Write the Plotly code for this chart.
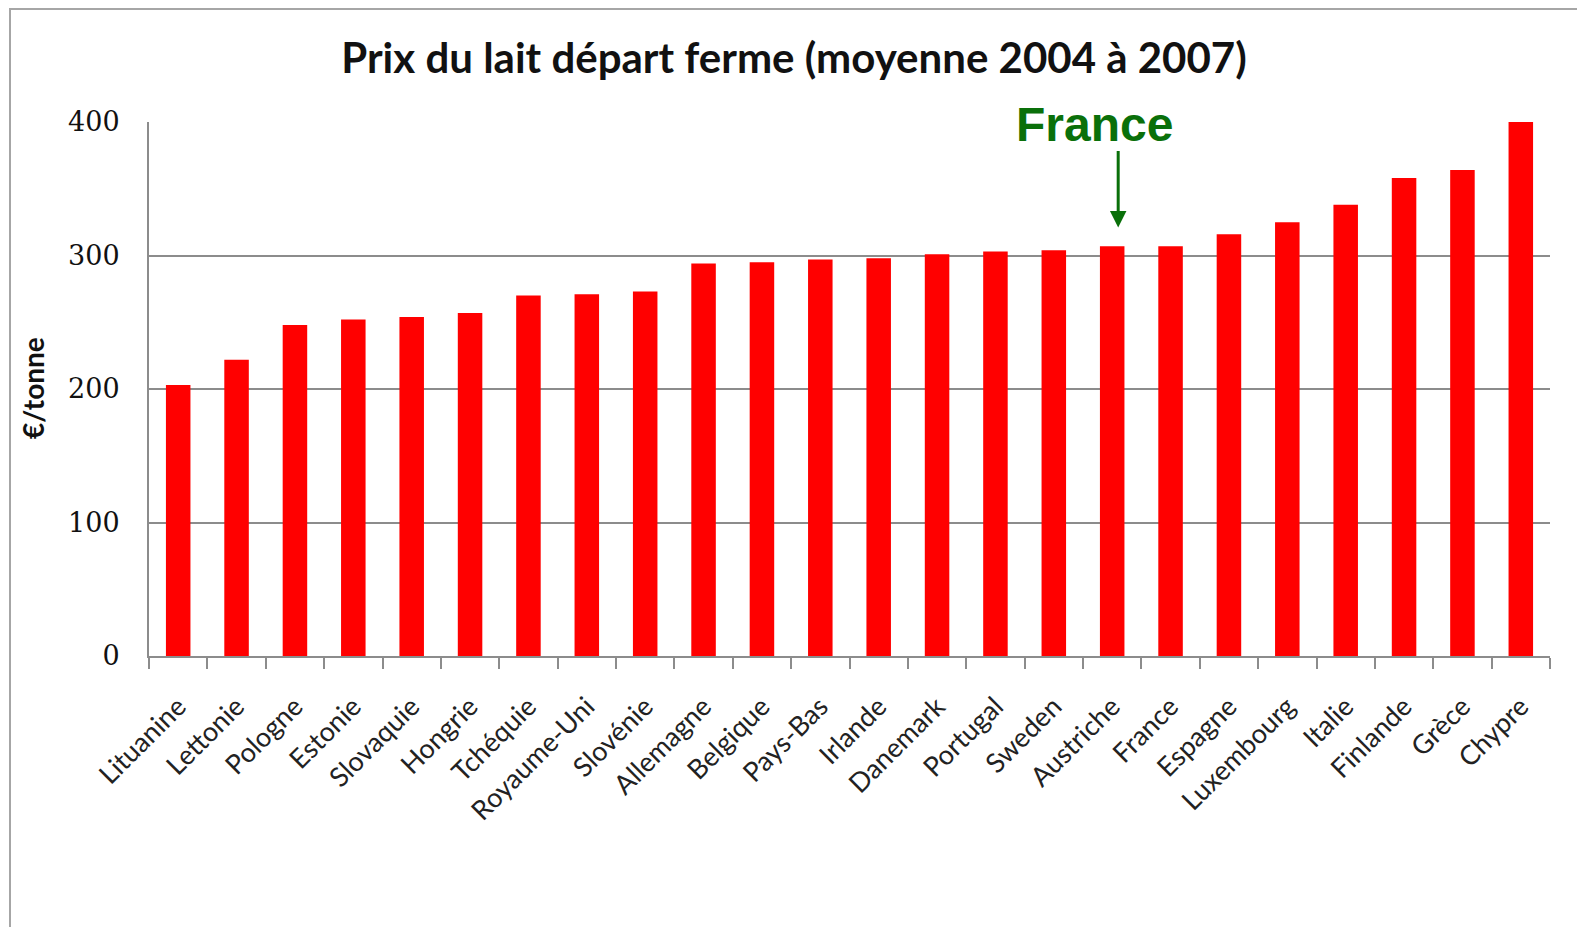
import plotly.graph_objects as go

# Prix du lait départ ferme, moyenne 2004-2007 (€/tonne)
pays = ["Lituanine", "Lettonie", "Pologne", "Estonie", "Slovaquie", "Hongrie",
        "Tchéquie", "Royaume-Uni", "Slovénie", "Allemagne", "Belgique", "Pays-Bas",
        "Irlande", "Danemark", "Portugal", "Sweden", "Austriche", "France",
        "Espagne", "Luxembourg", "Italie", "Finlande", "Grèce", "Chypre"]
prix = [203, 222, 248, 252, 254, 257, 270, 271, 273, 294, 295, 297,
        298, 301, 303, 304, 307, 307, 316, 325, 338, 358, 364, 400]
y_ticks = [0, 100, 200, 300, 400]

# la page a une marge de 8px autour de la figure
W, H = 1577, 919
L, R, T, B = 141, 1542, 114, 648


def px(x):
    return (x - L) / (R - L)


def py(y):
    return (B - y) / (B - T)


fig = go.Figure()
fig.add_trace(go.Bar(x=pays, y=prix, marker=dict(color="#ff0000", line=dict(width=0)),
                     hoverinfo="x+y"))

shapes = [
    # cadre gris
    dict(type="rect", xref="paper", yref="paper", x0=px(2), x1=px(1575), y0=py(940), y1=py(1),
         line=dict(color="#a6a6a6", width=2), fillcolor="rgba(0,0,0,0)", layer="below"),
]

annotations = [
    dict(text="<b>€/tonne</b>", xref="paper", yref="paper", x=px(25), y=py(380),
         xanchor="center", yanchor="middle",
         textangle=-90, showarrow=False, font=dict(family="Lato", size=28, color="#111")),
    dict(text="<b>France</b>", x="Austriche", y=prix[16] + 91, xshift=-18, showarrow=False,
         font=dict(family="Liberation Sans", size=48, color="#0a700a")),
    dict(text="", x="Austriche", y=prix[16] + 14, ax=0, ay=-78, xshift=6, showarrow=True,
         arrowhead=2, arrowsize=1.1, arrowwidth=3, arrowcolor="#0a700a"),
]

fig.update_layout(
    width=W, height=H,
    margin=dict(l=L, r=W - R, t=T, b=H - B, pad=0),
    paper_bgcolor="white", plot_bgcolor="white",
    title=dict(text="<b>Prix du lait départ ferme (moyenne 2004 à 2007)</b>",
               xref="container", x=786 / W, xanchor="center",
               yref="container", y=1 - 50 / H, yanchor="middle",
               font=dict(family="Lato", size=42, color="#111")),
    bargap=0.58,
    showlegend=False,
    shapes=shapes,
    annotations=annotations,
    xaxis=dict(type="category", showline=True, linecolor="#8c8c8c", linewidth=2,
               ticks="outside", tickson="boundaries", ticklen=11, tickcolor="#8c8c8c",
               tickwidth=2, tickangle=-45, showgrid=False, ticklabelstandoff=22,
               tickfont=dict(family="Lato", size=27, color="#222")),
    yaxis=dict(range=[0, 400], tickvals=y_ticks, showline=True, linecolor="#8c8c8c",
               linewidth=2, showgrid=True, gridcolor="#8c8c8c", gridwidth=1.5,
               zeroline=False, ticks="", ticklabelstandoff=22,
               tickfont=dict(family="DejaVu Serif", size=27, color="#111")),
)

fig.write_html("out.html")
